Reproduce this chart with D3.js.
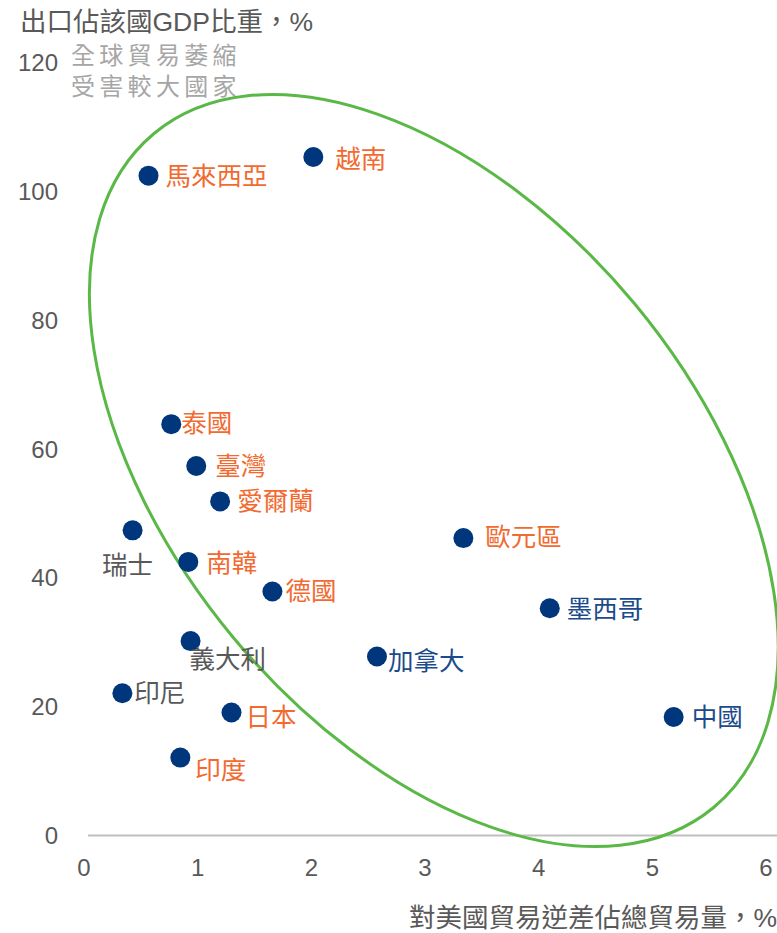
<!DOCTYPE html>
<html>
<head>
<meta charset="utf-8">
<script src="https://cdn.jsdelivr.net/npm/d3@7"></script>
<style>
  html, body { margin: 0; padding: 0; background: #fff; }
  svg { display: block; }
  text { font-family: "Liberation Sans", Arial, "Noto Sans CJK TC", sans-serif; }
</style>
</head>
<body>
<svg id="chart" width="777" height="933"></svg>
<script>
// ---- data ----
const countries = ["馬來西亞","越南","泰國","臺灣","愛爾蘭","瑞士","南韓","歐元區","德國","墨西哥","義大利","加拿大","印尼","日本","中國","印度"];
const tradeDeficitShare = [0.55, 2.0, 0.75, 0.97, 1.18, 0.41, 0.90, 3.32, 1.64, 4.08, 0.92, 2.56, 0.32, 1.28, 5.17, 0.83];
const exportGdpShare   = [102.5, 105.4, 63.9, 57.4, 51.9, 47.4, 42.5, 46.2, 37.9, 35.3, 30.2, 27.8, 22.1, 19.1, 18.4, 12.1];
const labelGroup = ["hit","hit","hit","hit","hit","other","hit","hit","hit","us","other","us","other","hit","us","hit"];
const xTicks = [0,1,2,3,4,5,6];
const yTicks = [0,20,40,60,80,100,120];
const yTitle = "出口佔該國GDP比重，%";
const xTitle = "對美國貿易逆差佔總貿易量，%";
const noteLines = ["全球貿易萎縮","受害較大國家"];
const ellipseCenter = [3.06, 56.7];

// ---- layout / styles (kept separate from data) ----
const labelOffsets = [
  [17,0,"start"],[22,2,"start"],[10,-1,"start"],[19,0,"start"],[17,0,"start"],
  [-5,35,"middle"],[18,1,"start"],[22,-1,"start"],[13,0,"start"],[17,1,"start"],
  [-1,18,"start"],[11,5,"start"],[12,0,"start"],[14,5,"start"],[18,0,"start"],[15,12,"start"]
];
const groupColor = { hit: "#F26A30", us: "#1C4B8C", other: "#595959" };

const svg = d3.select("#chart");
const x = d3.scaleLinear().domain([0, 6]).range([86, 768]);
const y = d3.scaleLinear().domain([0, 120]).range([835.5, 63]);

// x axis line
svg.append("line")
  .attr("x1", x(0) + 2).attr("x2", 777)
  .attr("y1", y(0)).attr("y2", y(0))
  .attr("stroke", "#BFBFBF").attr("stroke-width", 2);

// y tick labels
svg.append("g").selectAll("text").data(yTicks).join("text")
  .attr("x", 58).attr("y", d => y(d))
  .attr("dy", "0.35em").attr("text-anchor", "end")
  .attr("font-size", 24).attr("fill", "#595959")
  .text(d => d);

// x tick labels
svg.append("g").selectAll("text").data(xTicks).join("text")
  .attr("x", d => x(d) - 2).attr("y", 868)
  .attr("dy", "0.35em").attr("text-anchor", "middle")
  .attr("font-size", 24).attr("fill", "#595959")
  .text(d => d);

// titles
svg.append("text").attr("x", 20).attr("y", 22).attr("dy", "0.35em")
  .attr("font-size", 26.5).attr("fill", "#595959").text(yTitle);
svg.append("text").attr("x", 777).attr("y", 918).attr("dy", "0.35em")
  .attr("text-anchor", "end")
  .attr("font-size", 26.5).attr("fill", "#595959").text(xTitle);

// note
svg.append("g").selectAll("text").data(noteLines).join("text")
  .attr("x", 71).attr("y", (d, i) => 56 + i * 31).attr("dy", "0.35em")
  .attr("font-size", 24).attr("letter-spacing", 4.3).attr("fill", "#A6A6A6")
  .text(d => d);

// ellipse
svg.append("ellipse")
  .attr("cx", 0).attr("cy", 0).attr("rx", 438).attr("ry", 261)
  .attr("transform", `translate(${x(ellipseCenter[0])},${y(ellipseCenter[1])}) rotate(50.3)`)
  .attr("fill", "none").attr("stroke", "#5AB946").attr("stroke-width", 3);

// points
const pts = countries.map((c, i) => ({ c, xv: tradeDeficitShare[i], yv: exportGdpShare[i], g: labelGroup[i], o: labelOffsets[i] }));

svg.append("g").selectAll("circle").data(pts).join("circle")
  .attr("cx", d => x(d.xv)).attr("cy", d => y(d.yv))
  .attr("r", 10).attr("fill", "#00367C");

svg.append("g").selectAll("text").data(pts).join("text")
  .attr("x", d => x(d.xv) + d.o[0]).attr("y", d => y(d.yv) + d.o[1])
  .attr("dy", "0.35em").attr("text-anchor", d => d.o[2])
  .attr("font-size", 25.5).attr("fill", d => groupColor[d.g])
  .style("font-family", "'Noto Sans CJK TC', sans-serif")
  .text(d => d.c);
</script>
</body>
</html>
